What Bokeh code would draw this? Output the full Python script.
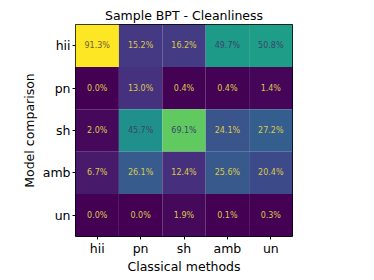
from bokeh.plotting import figure
from bokeh.models import ColumnDataSource, LinearColorMapper, FactorRange
from bokeh.palettes import Viridis256
from bokeh.embed import file_html
from bokeh.resources import INLINE

classes = ["hii", "pn", "sh", "amb", "un"]
rows = ["hii", "pn", "sh", "amb", "un"]
values = {
    "hii": [91.3, 15.2, 16.2, 49.7, 50.8],
    "pn":  [0.0, 13.0, 0.4, 0.4, 1.4],
    "sh":  [2.0, 45.7, 69.1, 24.1, 27.2],
    "amb": [6.7, 26.1, 12.4, 25.6, 20.4],
    "un":  [0.0, 0.0, 1.9, 0.1, 0.3],
}

vmax = max(max(v) for v in values.values())
xs, ys, vs, labels, tcols = [], [], [], [], []
for r in rows:
    for c, v in zip(classes, values[r]):
        xs.append(c); ys.append(r); vs.append(v)
        labels.append(f"{v:.1f}%")
        f = v / vmax
        tcols.append("#6f5c2c" if f > 0.85 else ("#3b456a" if f > 0.45 else "#dcc84a"))

src = ColumnDataSource(dict(x=xs, y=ys, v=vs, label=labels, tc=tcols))
mapper = LinearColorMapper(palette=Viridis256, low=0, high=vmax)

p = figure(frame_width=217, frame_height=212, output_backend="svg", toolbar_location=None,
           x_range=FactorRange(*classes), y_range=FactorRange(*rows[::-1]),
           title="Sample BPT - Cleanliness")
p.x_range.range_padding = 0
p.y_range.range_padding = 0
p.rect(x="x", y="y", width=1, height=1, source=src,
       fill_color={"field": "v", "transform": mapper}, line_color=None)
p.text(x="x", y="y", text="label", source=src, text_color="tc",
       text_align="center", text_baseline="middle", text_font_size="8px",
       text_font={"value": "DejaVu Sans"})

p.min_border_left = 75
p.min_border_right = 66
p.min_border_top = 24
p.min_border_bottom = 0
p.grid.visible = False
p.outline_line_color = "black"
p.outline_line_width = 1
p.background_fill_color = "white"
p.border_fill_color = "white"

p.title.align = "center"
p.title.text_font = "DejaVu Sans"
p.title.text_font_size = "12.5px"
p.title.text_font_style = "normal"
p.title.text_color = "black"
p.title.offset = 0
p.title.standoff = 4

for ax in (p.xaxis[0], p.yaxis[0]):
    ax.major_label_text_font = "DejaVu Sans"
    ax.major_label_text_font_size = "12.5px"
    ax.major_label_text_color = "black"
    ax.axis_label_text_font = "DejaVu Sans"
    ax.axis_label_text_font_size = "12.5px"
    ax.axis_label_text_font_style = "normal"
    ax.axis_label_text_color = "black"
    ax.axis_line_color = None
    ax.major_tick_line_color = "black"
    ax.major_tick_out = 3
    ax.major_tick_in = 0
    ax.minor_tick_line_color = None
    ax.major_label_standoff = 1
    ax.axis_label_standoff = 0
p.yaxis.major_label_standoff = 2
p.xaxis.axis_label = "Classical methods"
p.yaxis.axis_label = "Model comparison"
p.yaxis.axis_label_standoff = 3

open("out.html", "w").write(file_html(p, INLINE))
